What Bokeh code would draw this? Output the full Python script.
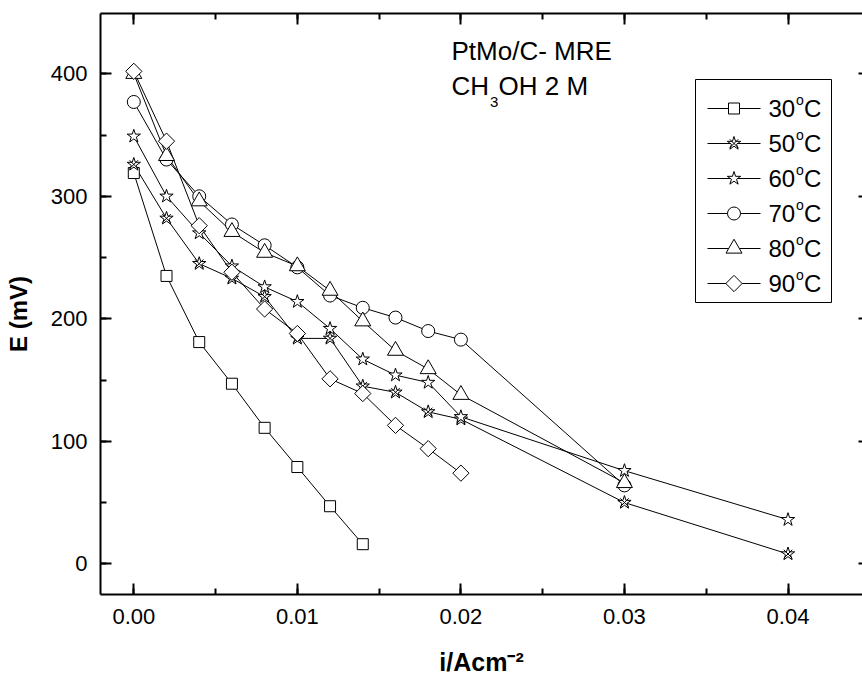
import math
from bokeh.plotting import figure
from bokeh.models import (Range1d, LinearAxis, SingleIntervalTicker, Label,
                          NumeralTickFormatter, CustomJSTickFormatter)
from bokeh.embed import file_html
from bokeh.resources import INLINE

# ---------------- data ----------------
i_30 = [0.000, 0.002, 0.004, 0.006, 0.008, 0.010, 0.012, 0.014]
E_30 = [319, 235, 181, 147, 111, 79, 47, 16]

i_50 = [0.000, 0.002, 0.004, 0.006, 0.008, 0.010, 0.012, 0.014, 0.016, 0.018, 0.020, 0.030, 0.040]
E_50 = [326, 282, 245, 233, 218, 184, 184, 145, 140, 124, 118, 50, 8]

i_60 = [0.000, 0.002, 0.004, 0.006, 0.008, 0.010, 0.012, 0.014, 0.016, 0.018, 0.020, 0.030, 0.040]
E_60 = [349, 300, 270, 243, 226, 214, 192, 167, 154, 148, 120, 76, 36]

i_70 = [0.000, 0.002, 0.004, 0.006, 0.008, 0.010, 0.012, 0.014, 0.016, 0.018, 0.020, 0.030]
E_70 = [377, 330, 300, 277, 260, 242, 219, 209, 201, 190, 183, 64]

i_80 = [0.000, 0.002, 0.004, 0.006, 0.008, 0.010, 0.012, 0.014, 0.016, 0.018, 0.020, 0.030]
E_80 = [400, 333, 296, 271, 254, 243, 223, 198, 174, 159, 138, 66]

i_90 = [0.000, 0.002, 0.004, 0.006, 0.008, 0.010, 0.012, 0.014, 0.016, 0.018, 0.020]
E_90 = [402, 345, 276, 238, 208, 188, 151, 139, 113, 94, 74]

temps = ["30", "50", "60", "70", "80", "90"]      # legend labels: "<t>°C"

x_ticks_interval = 0.01
y_ticks_interval = 100

# ---------------- layout helpers ----------------
FONT = "Liberation Sans"
X0PX, XS = 133.3, 16355.0   # pixel of i=0, pixels per A/cm2
Y0PX, YS = 563.3, 1.225     # pixel of E=0, pixels per mV


def dx(px):
    return (px - X0PX) / XS


def dy(py):
    return (Y0PX - py) / YS


p = figure(width=862, height=679, output_backend="svg", toolbar_location=None,
           x_range=Range1d(dx(100), dx(862)), y_range=Range1d(dy(594), dy(13)),
           min_border_left=100, min_border_right=0, min_border_top=13,
           min_border_bottom=85)
p.grid.visible = False
p.outline_line_color = None
p.background_fill_color = "white"
p.border_fill_color = "white"

xt = SingleIntervalTicker(interval=x_ticks_interval, num_minor_ticks=2)
yt = SingleIntervalTicker(interval=y_ticks_interval, num_minor_ticks=2)

bottom = p.xaxis[0]
left = p.yaxis[0]

bottom.ticker = xt
bottom.formatter = NumeralTickFormatter(format="0.00")
bottom.major_label_standoff = 14
bottom.axis_label = "i/Acm⁻²"
bottom.axis_label_text_font = FONT
bottom.axis_label_text_font_style = "bold"
bottom.axis_label_text_font_size = "25px"
bottom.axis_label_standoff = 21

left.ticker = yt
left.major_label_standoff = 13
left.axis_label = "E (mV)\u00a0\u00a0\u00a0"
left.axis_label_text_font = FONT
left.axis_label_text_font_style = "bold"
left.axis_label_text_font_size = "24px"
left.axis_label_standoff = 16

top = LinearAxis(ticker=xt)
right = LinearAxis(ticker=yt)
p.add_layout(top, "above")
p.add_layout(right, "right")

for ax in [bottom, left, top, right]:
    ax.axis_line_width = 2
    ax.axis_line_color = "black"
    ax.major_tick_line_width = 2
    ax.minor_tick_line_width = 2
    ax.major_tick_in = 11
    ax.major_tick_out = 0
    ax.minor_tick_in = 6
    ax.minor_tick_out = 0
    ax.major_label_text_font = FONT
    ax.major_label_text_font_size = "22px"
    ax.major_label_text_color = "black"
    ax.axis_label_text_color = "black"
for ax in [top, right]:
    ax.formatter = CustomJSTickFormatter(code="return ''")
    ax.major_label_text_font_size = "0px"
    ax.major_label_standoff = 0
right.axis_line_color = None
right.major_tick_in = 4
right.minor_tick_in = 0

# ---------------- markers ----------------
mk = dict(line_color="black", fill_color="white", line_width=1)


def draw_marker(kind, xs, ys):
    if kind == "30":
        p.scatter(xs, ys, marker="square", size=11, **mk)
    elif kind == "50":
        p.scatter(xs, ys, marker="star", size=14, **mk)
        p.scatter(xs, ys, marker="x", size=12, line_color="black", line_width=1)
    elif kind == "60":
        p.scatter(xs, ys, marker="star", size=14, **mk)
    elif kind == "70":
        p.scatter(xs, ys, marker="circle", size=13, **mk)
    elif kind == "80":
        p.scatter(xs, ys, marker="triangle", size=16, **mk)
    elif kind == "90":
        p.scatter(xs, ys, marker="square", size=11.5, angle=math.pi / 4, **mk)


series = [
    ("30", i_30, E_30), ("50", i_50, E_50), ("60", i_60, E_60),
    ("70", i_70, E_70), ("80", i_80, E_80), ("90", i_90, E_90),
]

for kind, xs, ys in series:
    p.line(xs, ys, line_color="black", line_width=1)
for kind, xs, ys in series:
    draw_marker(kind, xs, ys)

# ---------------- texts ----------------
def txt(xp, yp, s, size_px, bold=False, align="left"):
    # yp: wanted baseline pixel; Bokeh's alphabetic baseline sits ~0.37 em lower
    yb = yp - 0.37 * size_px
    p.add_layout(Label(x=dx(xp), y=dy(yb), text=s, text_font=FONT,
                       text_font_size=f"{size_px}px",
                       text_font_style="bold" if bold else "normal",
                       text_color="black", text_align=align,
                       text_baseline="alphabetic"))

# ---------------- legend (drawn by hand to get the raised "o") ----------------
BOX_L, BOX_R, BOX_T, BOX_B = 695, 831, 79, 302
ROW0, PITCH = 108, 35
LINE_L, LINE_R, SYM_X, TXT_X = 707, 760, 733.5, 768

p.quad(left=[dx(BOX_L)], right=[dx(BOX_R)], top=[dy(BOX_T)], bottom=[dy(BOX_B)],
       fill_color="white", line_color="black", line_width=1)
for k, t in enumerate(temps):
    cy = ROW0 + PITCH * k
    p.line([dx(LINE_L), dx(LINE_R)], [dy(cy), dy(cy)], line_color="black", line_width=1)
    draw_marker(t, [dx(SYM_X)], [dy(cy)])
    txt(TXT_X, cy + 8.5, t, 24)
    txt(TXT_X + 27.5, cy - 3, "o", 14)
    txt(TXT_X + 35.5, cy + 8.5, "C", 24)

# ---------------- annotation ----------------
txt(451, 60, "PtMo/C- MRE", 26)
txt(451, 95, "CH", 26)
txt(489.5, 107.5, "3", 15)
txt(498, 95, "OH 2 M", 26)

open("out.html", "w").write(file_html(p, INLINE))
